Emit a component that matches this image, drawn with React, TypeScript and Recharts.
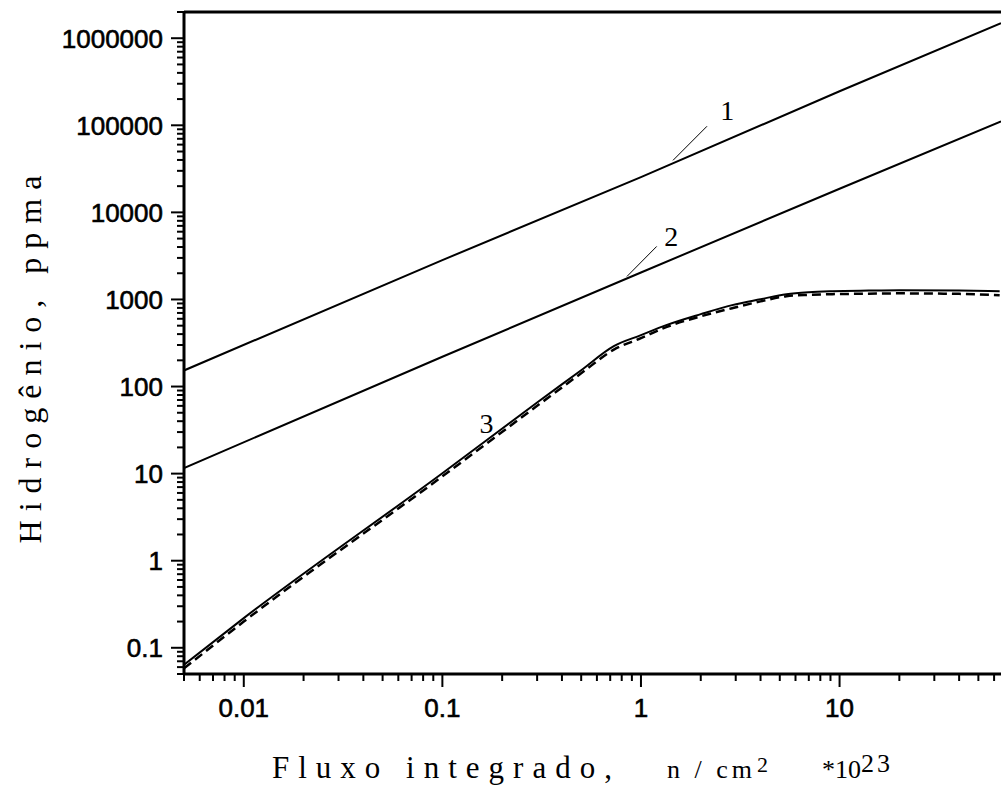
import React from "react";
import { LineChart, Line, XAxis, YAxis, ReferenceLine, ReferenceDot } from "recharts";

// values
const line1X = [0.005, 0.1, 1, 10, 65];
const line1Y = [153, 2830, 25400, 246000, 1490000];

const line2X = [0.005, 0.1, 1, 10, 65];
const line2Y = [11.6, 220, 2040, 18700, 111000];

const curve3X = [0.005, 0.01, 0.1, 0.3, 0.5, 0.73, 1, 1.34, 2, 2.88, 4, 5.4, 7, 9.2, 14, 20, 40, 64];
const curve3Y = [0.064, 0.219, 10.1, 65.5, 154, 291, 389, 507, 678, 861, 1006, 1150, 1213, 1245, 1265, 1275, 1265, 1245];
const curve3DashY = [0.058, 0.2, 9.3, 60, 142, 265, 360, 481, 640, 794, 950, 1090, 1130, 1150, 1165, 1175, 1160, 1120];

const xMajorTicks = [0.01, 0.1, 1, 10];
const xMinorTicks = [
  0.005, 0.006, 0.007, 0.008, 0.009,
  0.02, 0.03, 0.04, 0.05, 0.06, 0.07, 0.08, 0.09,
  0.2, 0.3, 0.4, 0.5, 0.6, 0.7, 0.8, 0.9,
  2, 3, 4, 5, 6, 7, 8, 9,
  20, 30, 40, 50, 60,
];
const yMajorTicks = [0.1, 1, 10, 100, 1000, 10000, 100000, 1000000];
const yMinorTicks = [
  0.05, 0.06, 0.07, 0.08, 0.09,
  0.2, 0.3, 0.4, 0.5, 0.6, 0.7, 0.8, 0.9,
  2, 3, 4, 5, 6, 7, 8, 9,
  20, 30, 40, 50, 60, 70, 80, 90,
  200, 300, 400, 500, 600, 700, 800, 900,
  2000, 3000, 4000, 5000, 6000, 7000, 8000, 9000,
  20000, 30000, 40000, 50000, 60000, 70000, 80000, 90000,
  200000, 300000, 400000, 500000, 600000, 700000, 800000, 900000,
  2000000,
];

// curve labels and their leader lines, in data units
const curveNames = ["1", "2", "3"];
const curveNameX = [2.72, 1.42, 0.167];
const curveNameY = [148600, 5300, 37.6];
const leaderFromX = [1.45, 0.85];
const leaderFromY = [39600, 1837];
const leaderToX = [2.15, 1.2];
const leaderToY = [97500, 4064];

const X_DOMAIN = [0.005, 65];
const Y_DOMAIN = [0.05, 2000000];

const sans = "'Liberation Sans', Arial, sans-serif";
const serif = "'Liberation Serif', 'Times New Roman', serif";

const toPts = (xs: number[], ys: number[]) => xs.map((x, i) => ({ x, y: ys[i] }));

const line1 = toPts(line1X, line1Y);
const line2 = toPts(line2X, line2Y);
const curve3 = toPts(curve3X, curve3Y);
const curve3Dash = toPts(curve3X, curve3DashY);

const xTicks = [...xMajorTicks, ...xMinorTicks].sort((a, b) => a - b);
const yTicks = [...yMajorTicks, ...yMinorTicks].sort((a, b) => a - b);

const XTick = (props: any) => {
  const { x, y, payload } = props;
  const major = xMajorTicks.includes(payload.value);
  return (
    <g>
      <line x1={x} y1={y} x2={x} y2={y + (major ? 13 : 7)} stroke="#000" strokeWidth={2} />
      {major && (
        <text
          x={x}
          y={y + 43}
          textAnchor="middle"
          fontSize={26}
          fontFamily={sans}
          fill="#000"
          stroke="#000"
          strokeWidth={0.6}
        >
          {String(payload.value)}
        </text>
      )}
    </g>
  );
};

const YTick = (props: any) => {
  const { x, y, payload } = props;
  const major = yMajorTicks.includes(payload.value);
  return (
    <g>
      <line x1={x} y1={y} x2={x - (major ? 13 : 7)} y2={y} stroke="#000" strokeWidth={2} />
      {major && (
        <text
          x={x - 21}
          y={y}
          dy="0.36em"
          textAnchor="end"
          fontSize={26}
          fontFamily={sans}
          fill="#000"
          stroke="#000"
          strokeWidth={0.6}
        >
          {String(payload.value)}
        </text>
      )}
    </g>
  );
};

const XTitle = (props: any) => {
  const { x, y } = props.viewBox;
  const base = y + 104;
  return (
    <g fill="#000" fontFamily={serif}>
      <text x={x + 88} y={base} fontSize={31} letterSpacing={9}>
        Fluxo integrado,
      </text>
      <text x={x + 483} y={base} fontSize={26} letterSpacing={4}>
        n / cm
      </text>
      <text x={x + 573} y={base - 6} fontSize={22}>
        2
      </text>
      <text x={x + 638} y={base} fontSize={26}>
        *10
      </text>
      <text x={x + 677} y={base - 6} fontSize={26} letterSpacing={3}>
        23
      </text>
    </g>
  );
};

const YTitle = (props: any) => {
  const { y, height } = props.viewBox;
  const cy = y + height / 2 + 12;
  return (
    <text
      x={30}
      y={cy}
      transform={`rotate(-90, 30, ${cy})`}
      textAnchor="middle"
      dominantBaseline="central"
      fontSize={32}
      letterSpacing={9}
      fontFamily={serif}
      fill="#000"
    >
      Hidrogênio, ppma
    </text>
  );
};

export default function App() {
  return (
    <div style={{ position: "absolute", left: 0, top: 0, background: "#fff" }}>
      <LineChart width={1001} height={789} margin={{ top: 12, right: 0, bottom: 0, left: 0 }}>
        <XAxis
          dataKey="x"
          type="number"
          scale="log"
          domain={X_DOMAIN}
          allowDataOverflow
          ticks={xTicks}
          interval={0}
          tickSize={0}
          tickMargin={0}
          tickLine={false}
          tick={<XTick />}
          axisLine={{ stroke: "#000", strokeWidth: 3 }}
          height={115}
          label={(p: any) => <XTitle {...p} />}
        />
        <YAxis
          dataKey="y"
          type="number"
          scale="log"
          domain={Y_DOMAIN}
          allowDataOverflow
          ticks={yTicks}
          interval={0}
          tickSize={0}
          tickMargin={0}
          tickLine={false}
          tick={<YTick />}
          axisLine={{ stroke: "#000", strokeWidth: 3 }}
          width={184}
          label={(p: any) => <YTitle {...p} />}
        />
        <ReferenceLine y={Y_DOMAIN[1]} stroke="#000" strokeWidth={3} ifOverflow="visible" />
        <Line data={line1} dataKey="y" type="linear" stroke="#000" strokeWidth={2} dot={false} isAnimationActive={false} />
        <Line data={line2} dataKey="y" type="linear" stroke="#000" strokeWidth={2} dot={false} isAnimationActive={false} />
        <Line data={curve3} dataKey="y" type="monotone" stroke="#000" strokeWidth={2} dot={false} isAnimationActive={false} />
        <Line
          data={curve3Dash}
          dataKey="y"
          type="monotone"
          stroke="#000"
          strokeWidth={2.5}
          strokeDasharray="9 5"
          dot={false}
          isAnimationActive={false}
        />
        {leaderFromX.map((fx, i) => (
          <ReferenceLine
            key={`leader-${i}`}
            segment={[
              { x: fx, y: leaderFromY[i] },
              { x: leaderToX[i], y: leaderToY[i] },
            ]}
            stroke="#000"
            strokeWidth={1}
          />
        ))}
        {curveNames.map((name, i) => (
          <ReferenceDot
            key={`name-${name}`}
            x={curveNameX[i]}
            y={curveNameY[i]}
            r={0}
            fill="none"
            stroke="none"
            label={{ value: name, position: "center", fill: "#000", fontSize: 28, fontFamily: serif }}
          />
        ))}
      </LineChart>
    </div>
  );
}
